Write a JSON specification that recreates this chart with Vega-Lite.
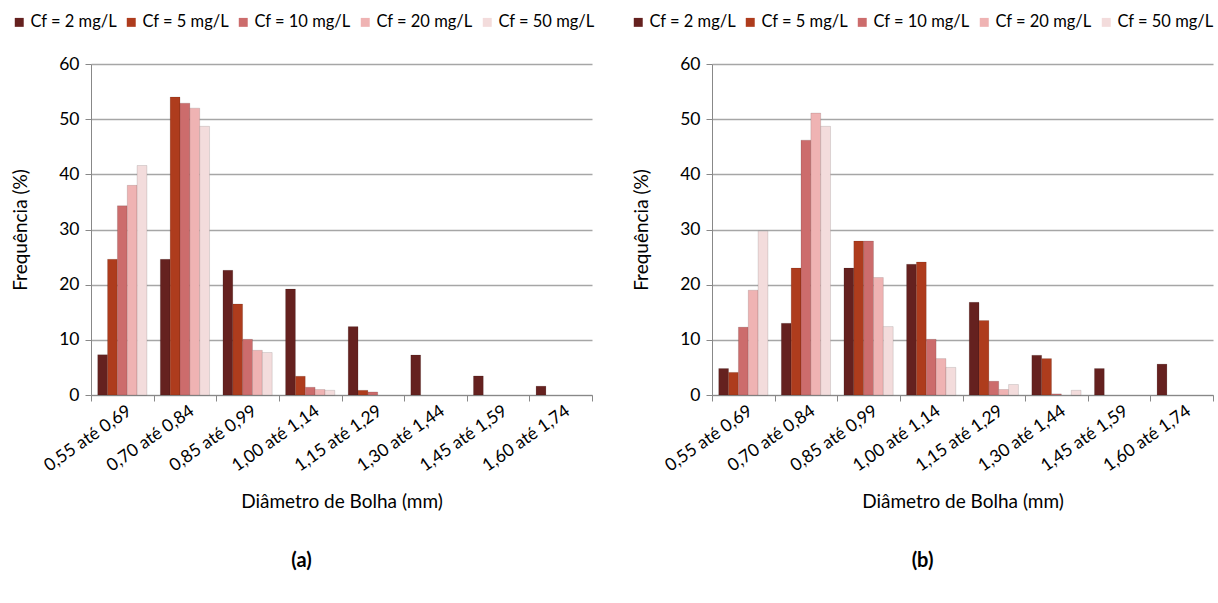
{
  "$schema": "https://vega.github.io/schema/vega-lite/v6.json",
  "background": "white",
  "padding": {"left": 11, "top": 14, "right": 2, "bottom": 4},
  "config": {
    "font": "Lato",
    "view": {"stroke": null},
    "axis": {"labelFont": "Lato", "titleFont": "Lato", "titleFontWeight": "normal", "labelColor": "#000", "titleColor": "#000"},
    "legend": {"labelFont": "Lato"}
  },
  "datasets": {
    "d": [
      {"panel": "a", "classe": "0,55 até 0,69", "cf": "Cf = 2 mg/L", "freq": 7.3},
      {"panel": "a", "classe": "0,55 até 0,69", "cf": "Cf = 5 mg/L", "freq": 24.6},
      {"panel": "a", "classe": "0,55 até 0,69", "cf": "Cf = 10 mg/L", "freq": 34.3},
      {"panel": "a", "classe": "0,55 até 0,69", "cf": "Cf = 20 mg/L", "freq": 38.0},
      {"panel": "a", "classe": "0,55 até 0,69", "cf": "Cf = 50 mg/L", "freq": 41.6},
      {"panel": "a", "classe": "0,70 até 0,84", "cf": "Cf = 2 mg/L", "freq": 24.6},
      {"panel": "a", "classe": "0,70 até 0,84", "cf": "Cf = 5 mg/L", "freq": 54.0},
      {"panel": "a", "classe": "0,70 até 0,84", "cf": "Cf = 10 mg/L", "freq": 52.9},
      {"panel": "a", "classe": "0,70 até 0,84", "cf": "Cf = 20 mg/L", "freq": 52.0},
      {"panel": "a", "classe": "0,70 até 0,84", "cf": "Cf = 50 mg/L", "freq": 48.7},
      {"panel": "a", "classe": "0,85 até 0,99", "cf": "Cf = 2 mg/L", "freq": 22.6},
      {"panel": "a", "classe": "0,85 até 0,99", "cf": "Cf = 5 mg/L", "freq": 16.5},
      {"panel": "a", "classe": "0,85 até 0,99", "cf": "Cf = 10 mg/L", "freq": 10.1},
      {"panel": "a", "classe": "0,85 até 0,99", "cf": "Cf = 20 mg/L", "freq": 8.1},
      {"panel": "a", "classe": "0,85 até 0,99", "cf": "Cf = 50 mg/L", "freq": 7.7},
      {"panel": "a", "classe": "1,00 até 1,14", "cf": "Cf = 2 mg/L", "freq": 19.2},
      {"panel": "a", "classe": "1,00 até 1,14", "cf": "Cf = 5 mg/L", "freq": 3.4},
      {"panel": "a", "classe": "1,00 até 1,14", "cf": "Cf = 10 mg/L", "freq": 1.4},
      {"panel": "a", "classe": "1,00 até 1,14", "cf": "Cf = 20 mg/L", "freq": 1.0},
      {"panel": "a", "classe": "1,00 até 1,14", "cf": "Cf = 50 mg/L", "freq": 0.85},
      {"panel": "a", "classe": "1,15 até 1,29", "cf": "Cf = 2 mg/L", "freq": 12.4},
      {"panel": "a", "classe": "1,15 até 1,29", "cf": "Cf = 5 mg/L", "freq": 0.85},
      {"panel": "a", "classe": "1,15 até 1,29", "cf": "Cf = 10 mg/L", "freq": 0.55},
      {"panel": "a", "classe": "1,30 até 1,44", "cf": "Cf = 2 mg/L", "freq": 7.25},
      {"panel": "a", "classe": "1,45 até 1,59", "cf": "Cf = 2 mg/L", "freq": 3.45},
      {"panel": "a", "classe": "1,60 até 1,74", "cf": "Cf = 2 mg/L", "freq": 1.6},
      {"panel": "b", "classe": "0,55 até 0,69", "cf": "Cf = 2 mg/L", "freq": 4.8},
      {"panel": "b", "classe": "0,55 até 0,69", "cf": "Cf = 5 mg/L", "freq": 4.1},
      {"panel": "b", "classe": "0,55 até 0,69", "cf": "Cf = 10 mg/L", "freq": 12.3},
      {"panel": "b", "classe": "0,55 até 0,69", "cf": "Cf = 20 mg/L", "freq": 19.0},
      {"panel": "b", "classe": "0,55 até 0,69", "cf": "Cf = 50 mg/L", "freq": 29.7},
      {"panel": "b", "classe": "0,70 até 0,84", "cf": "Cf = 2 mg/L", "freq": 13.0},
      {"panel": "b", "classe": "0,70 até 0,84", "cf": "Cf = 5 mg/L", "freq": 23.0},
      {"panel": "b", "classe": "0,70 até 0,84", "cf": "Cf = 10 mg/L", "freq": 46.2},
      {"panel": "b", "classe": "0,70 até 0,84", "cf": "Cf = 20 mg/L", "freq": 51.1},
      {"panel": "b", "classe": "0,70 até 0,84", "cf": "Cf = 50 mg/L", "freq": 48.7},
      {"panel": "b", "classe": "0,85 até 0,99", "cf": "Cf = 2 mg/L", "freq": 23.0},
      {"panel": "b", "classe": "0,85 até 0,99", "cf": "Cf = 5 mg/L", "freq": 27.9},
      {"panel": "b", "classe": "0,85 até 0,99", "cf": "Cf = 10 mg/L", "freq": 27.9},
      {"panel": "b", "classe": "0,85 até 0,99", "cf": "Cf = 20 mg/L", "freq": 21.3},
      {"panel": "b", "classe": "0,85 até 0,99", "cf": "Cf = 50 mg/L", "freq": 12.4},
      {"panel": "b", "classe": "1,00 até 1,14", "cf": "Cf = 2 mg/L", "freq": 23.7},
      {"panel": "b", "classe": "1,00 até 1,14", "cf": "Cf = 5 mg/L", "freq": 24.1},
      {"panel": "b", "classe": "1,00 até 1,14", "cf": "Cf = 10 mg/L", "freq": 10.1},
      {"panel": "b", "classe": "1,00 até 1,14", "cf": "Cf = 20 mg/L", "freq": 6.6},
      {"panel": "b", "classe": "1,00 até 1,14", "cf": "Cf = 50 mg/L", "freq": 5.0},
      {"panel": "b", "classe": "1,15 até 1,29", "cf": "Cf = 2 mg/L", "freq": 16.8},
      {"panel": "b", "classe": "1,15 até 1,29", "cf": "Cf = 5 mg/L", "freq": 13.5},
      {"panel": "b", "classe": "1,15 até 1,29", "cf": "Cf = 10 mg/L", "freq": 2.5},
      {"panel": "b", "classe": "1,15 até 1,29", "cf": "Cf = 20 mg/L", "freq": 1.0},
      {"panel": "b", "classe": "1,15 até 1,29", "cf": "Cf = 50 mg/L", "freq": 1.9},
      {"panel": "b", "classe": "1,30 até 1,44", "cf": "Cf = 2 mg/L", "freq": 7.2},
      {"panel": "b", "classe": "1,30 até 1,44", "cf": "Cf = 5 mg/L", "freq": 6.6},
      {"panel": "b", "classe": "1,30 até 1,44", "cf": "Cf = 10 mg/L", "freq": 0.2},
      {"panel": "b", "classe": "1,30 até 1,44", "cf": "Cf = 50 mg/L", "freq": 0.85},
      {"panel": "b", "classe": "1,45 até 1,59", "cf": "Cf = 2 mg/L", "freq": 4.8},
      {"panel": "b", "classe": "1,60 até 1,74", "cf": "Cf = 2 mg/L", "freq": 5.6}
    ]
  },
  "resolve": {"scale": {"color": "independent"}, "legend": {"color": "independent"}},
  "spacing": 35,
  "hconcat": [
    {
      "data": {"name": "d"},
      "transform": [{"filter": "datum.panel == 'a'"}],
      "width": 501,
      "height": 331,
      "title": {"text": "(a)", "orient": "bottom", "fontSize": 20, "fontWeight": "bold", "font": "Lato", "offset": 40, "dx": -40},
      "mark": {"type": "bar", "stroke": "#000", "strokeOpacity": 0.15, "strokeWidth": 0.8},
      "encoding": {
        "x": {"field": "classe", "type": "nominal", "sort": null,
          "scale": {"domain": ["0,55 até 0,69", "0,70 até 0,84", "0,85 até 0,99", "1,00 até 1,14", "1,15 até 1,29", "1,30 até 1,44", "1,45 até 1,59", "1,60 até 1,74"], "paddingInner": 0, "paddingOuter": 0},
          "axis": {"title": "Diâmetro de Bolha (mm)", "titleFontSize": 19, "titlePadding": 18, "labelAngle": -35, "labelAlign": "right", "labelBaseline": "middle", "labelFontSize": 17.5, "labelPadding": 8, "labelOffset": 7, "tickBand": "extent", "domainColor": "#888", "tickColor": "#888", "tickSize": 6, "grid": false}},
        "xOffset": {"field": "cf", "type": "nominal", "scale": {"domain": ["Cf = 2 mg/L", "Cf = 5 mg/L", "Cf = 10 mg/L", "Cf = 20 mg/L", "Cf = 50 mg/L"], "paddingInner": 0, "paddingOuter": 0.68}},
        "y": {"field": "freq", "type": "quantitative",
          "scale": {"domain": [0, 60]},
          "axis": {"title": "Frequência (%)", "titleFontSize": 19, "titlePadding": 28, "values": [0, 10, 20, 30, 40, 50, 60], "labelFontSize": 17.5, "labelPadding": 6, "grid": true, "gridColor": "#a6a6a6", "gridWidth": 1.3, "domainColor": "#888", "tickColor": "#888", "tickSize": 6}},
        "color": {"field": "cf", "type": "nominal",
          "scale": {"domain": ["Cf = 2 mg/L", "Cf = 5 mg/L", "Cf = 10 mg/L", "Cf = 20 mg/L", "Cf = 50 mg/L"], "range": ["#65211f", "#ae3c1d", "#cc6c6c", "#efb3b3", "#f3dcdc"]},
          "legend": {"title": null, "orient": "none", "direction": "horizontal", "legendX": -80, "legendY": -50, "symbolType": "square", "symbolSize": 80, "symbolStrokeWidth": 0, "labelFontSize": 16.5, "columnPadding": 6, "symbolOffset": 0, "labelOffset": 3}}
      }
    },
    {
      "data": {"name": "d"},
      "transform": [{"filter": "datum.panel == 'b'"}],
      "width": 501,
      "height": 331,
      "title": {"text": "(b)", "orient": "bottom", "fontSize": 20, "fontWeight": "bold", "font": "Lato", "offset": 40, "dx": -40},
      "mark": {"type": "bar", "stroke": "#000", "strokeOpacity": 0.15, "strokeWidth": 0.8},
      "encoding": {
        "x": {"field": "classe", "type": "nominal", "sort": null,
          "scale": {"domain": ["0,55 até 0,69", "0,70 até 0,84", "0,85 até 0,99", "1,00 até 1,14", "1,15 até 1,29", "1,30 até 1,44", "1,45 até 1,59", "1,60 até 1,74"], "paddingInner": 0, "paddingOuter": 0},
          "axis": {"title": "Diâmetro de Bolha (mm)", "titleFontSize": 19, "titlePadding": 18, "labelAngle": -35, "labelAlign": "right", "labelBaseline": "middle", "labelFontSize": 17.5, "labelPadding": 8, "labelOffset": 7, "tickBand": "extent", "domainColor": "#888", "tickColor": "#888", "tickSize": 6, "grid": false}},
        "xOffset": {"field": "cf", "type": "nominal", "scale": {"domain": ["Cf = 2 mg/L", "Cf = 5 mg/L", "Cf = 10 mg/L", "Cf = 20 mg/L", "Cf = 50 mg/L"], "paddingInner": 0, "paddingOuter": 0.68}},
        "y": {"field": "freq", "type": "quantitative",
          "scale": {"domain": [0, 60]},
          "axis": {"title": "Frequência (%)", "titleFontSize": 19, "titlePadding": 28, "values": [0, 10, 20, 30, 40, 50, 60], "labelFontSize": 17.5, "labelPadding": 6, "grid": true, "gridColor": "#a6a6a6", "gridWidth": 1.3, "domainColor": "#888", "tickColor": "#888", "tickSize": 6}},
        "color": {"field": "cf", "type": "nominal",
          "scale": {"domain": ["Cf = 2 mg/L", "Cf = 5 mg/L", "Cf = 10 mg/L", "Cf = 20 mg/L", "Cf = 50 mg/L"], "range": ["#65211f", "#ae3c1d", "#cc6c6c", "#efb3b3", "#f3dcdc"]},
          "legend": {"title": null, "orient": "none", "direction": "horizontal", "legendX": -82, "legendY": -50, "symbolType": "square", "symbolSize": 80, "symbolStrokeWidth": 0, "labelFontSize": 16.5, "columnPadding": 6, "symbolOffset": 0, "labelOffset": 3}}
      }
    }
  ]
}
